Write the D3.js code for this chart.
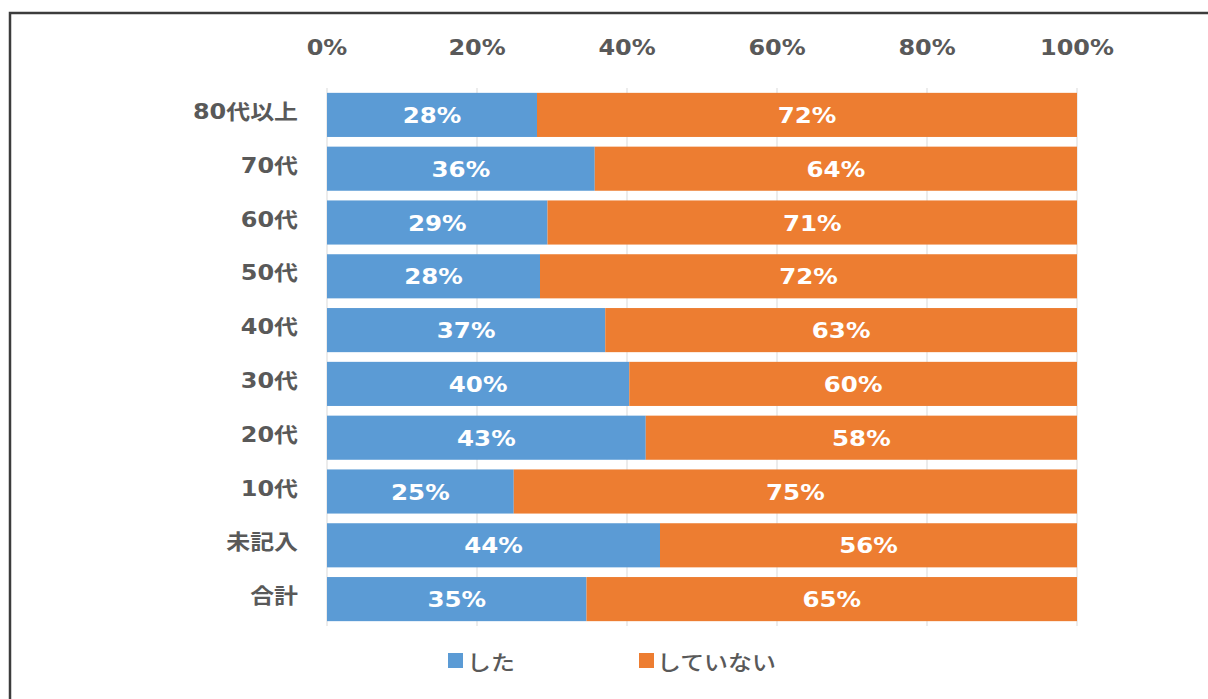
<!DOCTYPE html>
<html>
<head>
<meta charset="utf-8">
<script src="https://cdn.jsdelivr.net/npm/d3@7"></script>
<style>
  html, body { margin: 0; padding: 0; background: #fff; }
  svg { display: block; }
</style>
</head>
<body>
<script>
// Age groups, top to bottom
const categories = ["80代以上", "70代", "60代", "50代", "40代", "30代", "20代", "10代", "未記入", "合計"];
// Share (%) who did / did not
const didValues    = [28.0, 35.7, 29.4, 28.4, 37.1, 40.3, 42.5, 24.9, 44.4, 34.6];
const didNotValues = [72.0, 64.3, 70.6, 71.6, 62.9, 59.7, 57.5, 75.1, 55.6, 65.4];
const seriesNames  = ["した", "していない"];
const tickValues   = [0, 20, 40, 60, 80, 100];

const W = 1208, H = 699;
const colors = ["#5B9BD5", "#ED7D31"];
const textGray = "#595959";
const numFont = "'DejaVu Sans', 'Noto Sans CJK JP', sans-serif";
const cjkFont = "'Noto Sans CJK JP', 'DejaVu Sans', sans-serif";
const stretch = 1.14;

const svg = d3.select("body").append("svg").attr("width", W).attr("height", H);

// outer frame
svg.append("rect")
  .attr("x", 10).attr("y", 13).attr("width", 1400).attr("height", 900)
  .attr("fill", "none").attr("stroke", "#3c3c3c").attr("stroke-width", 2.5);

const plot = { left: 327, right: 1077, top: 88, bottom: 626 };

const x = d3.scaleLinear().domain([0, 100]).range([plot.left, plot.right]);
const y = d3.scaleBand().domain(categories).range([plot.top, plot.bottom])
  .paddingInner(0.18).paddingOuter(0.09);

const rows = categories.map((c, i) => ({ cat: c, "した": didValues[i], "していない": didNotValues[i] }));
const stacked = d3.stack().keys(seriesNames)(rows);

// gridlines
svg.append("g").selectAll("line").data(tickValues).join("line")
  .attr("x1", d => x(d)).attr("x2", d => x(d))
  .attr("y1", plot.top).attr("y2", plot.bottom)
  .attr("stroke", "#d9d9d9").attr("stroke-width", 1);

// horizontally stretched text
function stretchedText(g, tx, ty, str, opts) {
  return g.append("g").attr("transform", `translate(${tx},${ty}) scale(${stretch},1)`)
    .append("text")
    .attr("text-anchor", opts.anchor || "middle")
    .attr("font-family", opts.family)
    .attr("font-size", opts.size)
    .attr("font-weight", opts.weight || "bold")
    .attr("fill", opts.fill)
    .text(str);
}

// top axis labels
const axisG = svg.append("g");
tickValues.forEach(v => {
  stretchedText(axisG, x(v), 55, v + "%", { family: numFont, size: 21, fill: textGray });
});

// bars
const barG = svg.append("g");
stacked.forEach((s, si) => {
  barG.append("g").attr("fill", colors[si])
    .selectAll("rect").data(s).join("rect")
    .attr("x", d => x(d[0]))
    .attr("width", d => x(d[1]) - x(d[0]))
    .attr("y", d => y(d.data.cat))
    .attr("height", y.bandwidth());
});

// value labels
const labG = svg.append("g");
stacked.forEach((s, si) => {
  s.forEach(d => {
    const v = d.data[seriesNames[si]];
    const cx = (x(d[0]) + x(d[1])) / 2;
    const cy = y(d.data.cat) + y.bandwidth() / 2 + 8;
    stretchedText(labG, cx, cy, Math.round(v) + "%", { family: numFont, size: 21.5, fill: "#ffffff" });
  });
});

// category labels
const catG = svg.append("g");
categories.forEach(c => {
  const cy = y(c) + y.bandwidth() / 2 + 4;
  stretchedText(catG, 298, cy, c, { family: numFont, size: 21, fill: textGray, anchor: "end" });
});

// legend
const legend = [
  { name: seriesNames[0], color: colors[0], sx: 448, tx: 467 },
  { name: seriesNames[1], color: colors[1], sx: 639, tx: 657 }
];
const legG = svg.append("g");
legend.forEach(l => {
  legG.append("rect").attr("x", l.sx).attr("y", 653).attr("width", 15).attr("height", 15).attr("fill", l.color);
  stretchedText(legG, l.tx, 670, l.name, { family: cjkFont, size: 21, fill: textGray, anchor: "start", weight: 500 });
});
</script>
</body>
</html>
